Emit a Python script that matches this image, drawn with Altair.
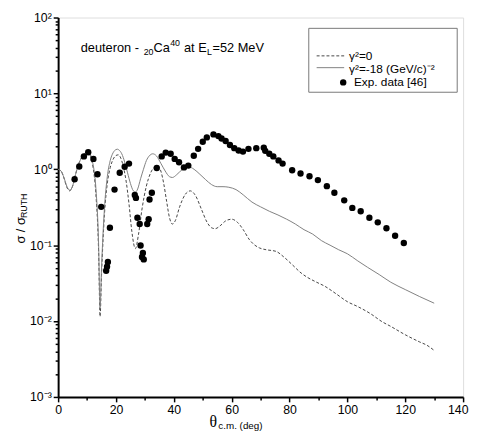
import altair as alt
import pandas as pd

# ---- experimental data (deg, sigma/sigma_Ruth) ----
theta_exp = [5.7, 7.3, 8.9, 10.4, 12.2, 13.6, 14.9, 16.6, 16.9, 17.2, 17.9, 19.5, 21.3, 23.0, 24.5,
             26.5, 26.9, 27.4, 28.2, 28.5, 29.0, 29.3, 29.6, 30.8, 31.3, 31.6, 32.4, 34.1, 35.8,
             37.2, 38.9, 40.3, 41.8, 43.5, 45.0, 46.9, 48.4, 50.0, 51.4, 53.7, 55.4, 56.5, 57.9,
             59.4, 60.9, 62.4, 63.9, 65.8, 68.5, 71.1, 71.6, 73.0, 74.4, 76.2, 77.6, 80.9, 83.8,
             86.9, 89.8, 92.9, 95.5, 98.9, 101.7, 104.6, 107.6, 110.5, 113.5, 116.5, 119.5]
sigma_exp = [0.74, 1.09, 1.48, 1.68, 1.37, 0.86, 0.32, 0.046, 0.052, 0.06, 0.17, 0.54, 0.90, 1.08, 1.19,
             0.46, 0.42, 0.23, 0.19, 0.099, 0.070, 0.079, 0.065, 0.19, 0.22, 0.40, 0.49, 1.04, 1.48,
             1.66, 1.60, 1.37, 1.24, 1.06, 1.12, 1.51, 1.86, 2.31, 2.63, 2.88, 2.74, 2.55, 2.36,
             2.09, 1.90, 1.77, 1.71, 1.86, 1.90, 1.93, 1.75, 1.60, 1.48, 1.31, 1.19, 0.97, 0.88,
             0.81, 0.72, 0.60, 0.49, 0.39, 0.31, 0.28, 0.23, 0.20, 0.167, 0.133, 0.107]

# ---- gamma^2 = 0 (dashed) ----
theta_g0 = [0, 1, 2, 3, 4, 5, 6, 7, 8, 9, 10, 11, 12, 13, 14, 14.5, 15, 16, 17, 18, 19, 20, 20.8,
            21.5, 22.5, 23.5, 24.5, 25.5, 26.7, 27.8, 29, 30.5, 32, 33.5, 34.5, 35.5, 36.5, 37.5,
            38.5, 39.5, 40.5, 42, 44, 45.7, 47.5, 49.5, 51.5, 53, 54.3, 56, 58, 60, 62, 64, 66, 68,
            69.6, 72, 75.3, 78, 81, 84, 86, 89, 92.3, 96, 100, 103.6, 108, 112, 115, 120, 125,
            127.5, 130]
sigma_g0 = [1.0, 0.95, 0.77, 0.58, 0.52, 0.6, 0.85, 1.15, 1.4, 1.6, 1.68, 1.55, 1.1, 0.5, 0.08,
            0.0115, 0.04, 0.25, 0.65, 1.05, 1.35, 1.52, 1.55, 1.45, 1.1, 0.7, 0.35, 0.15, 0.09,
            0.14, 0.3, 0.6, 0.9, 1.08, 1.1, 0.95, 0.65, 0.38, 0.23, 0.19, 0.21, 0.32, 0.47, 0.52,
            0.45, 0.3, 0.2, 0.17, 0.165, 0.18, 0.21, 0.22, 0.2, 0.16, 0.12, 0.1, 0.092, 0.087,
            0.083, 0.07, 0.055, 0.043, 0.038, 0.033, 0.0286, 0.023, 0.018, 0.0155, 0.0125,
            0.0098, 0.0085, 0.0066, 0.0053, 0.0048, 0.0041]

# ---- gamma^2 = -18 (GeV/c)^-2 (solid) ----
theta_g18 = [0, 1, 2, 3, 4, 5, 6, 7, 8, 9, 10, 11, 12, 13, 14, 14.5, 15, 16, 17, 18, 19, 20, 20.5,
             21, 22, 23, 24, 25, 26, 26.7, 27.5, 28.5, 29.5, 30.5, 31.5, 32.7, 34, 35.5, 37, 38.5,
             39.5, 41, 43, 45, 47, 49, 51, 53, 55, 57, 59, 61.5, 64, 67, 70, 73, 76, 79, 82, 85,
             88, 91, 94, 97, 100, 103.6, 107, 111, 115, 120, 125, 130]
sigma_g18 = [1.0, 0.95, 0.78, 0.6, 0.53, 0.6, 0.85, 1.15, 1.4, 1.6, 1.7, 1.6, 1.2, 0.6, 0.1,
             0.015, 0.05, 0.3, 0.8, 1.3, 1.65, 1.82, 1.84, 1.8, 1.6, 1.25, 0.9, 0.65, 0.52, 0.5,
             0.55, 0.75, 1.0, 1.3, 1.5, 1.6, 1.5, 1.2, 0.95, 0.8, 0.78, 0.85, 1.0, 1.08, 1.0, 0.86,
             0.73, 0.63, 0.59, 0.59, 0.58, 0.54, 0.46, 0.37, 0.32, 0.28, 0.25, 0.22, 0.19, 0.16,
             0.14, 0.115, 0.1, 0.087, 0.077, 0.062, 0.051, 0.041, 0.0325, 0.026, 0.021, 0.0172]

x_major = [0, 20, 40, 60, 80, 100, 120]
x_last = [140]
x_minor = [10, 30, 50, 70, 90, 110, 130]
y_major = [0.001, 0.01, 0.1, 1, 10, 100]
y_minor = [k * 10.0 ** e for e in range(-3, 2) for k in range(2, 10)]

legend_labels = ["\u03b3\u00b2=0", "\u03b3\u00b2=-18 (GeV/c)\u207b\u00b2", "Exp. data [46]"]

FONT = "Liberation Sans"
df_exp = pd.DataFrame({"theta": theta_exp, "sigma": sigma_exp})
df_g0 = pd.DataFrame({"theta": theta_g0, "sigma": sigma_g0})
df_g18 = pd.DataFrame({"theta": theta_g18, "sigma": sigma_g18})

xs = alt.Scale(domain=[0, 140], nice=False, zero=False)
ys = alt.Scale(type="log", domain=[0.001, 100], nice=False)

ax_x_major = alt.Axis(values=x_major, orient="bottom", title=None, grid=False, tickSize=5,
                      tickWidth=1.5, tickColor="black", domainColor="black", domainWidth=2,
                      labelFont=FONT, labelFontSize=12.5, labelColor="black", labelPadding=2,
                      format="d", labelFlush=False)
ax_x_last = alt.Axis(values=x_last, orient="bottom", title=None, grid=False, tickSize=5,
                     tickWidth=1.5, tickColor="black", domain=False,
                     labelFont=FONT, labelFontSize=12.5, labelColor="black", labelPadding=2,
                     format="d", labelFlush=True, labelFlushOffset=5)
ax_x_minor = alt.Axis(values=x_minor, orient="bottom", title=None, grid=False, labels=False,
                      domain=False, tickSize=3, tickWidth=1.5, tickColor="black")
ax_y_major = alt.Axis(values=y_major, orient="left", title=None, grid=False, tickSize=5,
                      tickWidth=1.5, tickColor="black", domainColor="black", domainWidth=2,
                      labelFont=FONT, labelFontSize=12.5, labelColor="black", labelPadding=2,
                      labelFlush=False,
                      labelExpr="datum.value >= 99 ? '10\u00b2' : datum.value >= 9.9 ? '10\u00b9' : "
                                "datum.value >= 0.99 ? '10\u2070' : datum.value >= 0.099 ? '10\u207b\u00b9' : "
                                "datum.value >= 0.0099 ? '10\u207b\u00b2' : '10\u207b\u00b3'")
ax_y_minor = alt.Axis(values=y_minor, orient="left", title=None, grid=False, labels=False,
                      domain=False, tickSize=3, tickWidth=1.5, tickColor="black")

dashed = alt.Chart(df_g0).mark_line(color="#444444", strokeWidth=1, strokeDash=[3, 2],
                                    interpolate="monotone").encode(
    x=alt.X("theta:Q", scale=xs, axis=ax_x_major),
    y=alt.Y("sigma:Q", scale=ys, axis=ax_y_major))
solid = alt.Chart(df_g18).mark_line(color="#808080", strokeWidth=1,
                                    interpolate="monotone").encode(
    x=alt.X("theta:Q", scale=xs, axis=None),
    y=alt.Y("sigma:Q", scale=ys, axis=None))
pts = alt.Chart(df_exp).mark_circle(color="black", size=42, opacity=1).encode(
    x=alt.X("theta:Q", scale=xs, axis=None),
    y=alt.Y("sigma:Q", scale=ys, axis=None))
minor = alt.Chart(df_exp).mark_point(opacity=0).encode(
    x=alt.X("theta:Q", scale=xs, axis=ax_x_minor),
    y=alt.Y("sigma:Q", scale=ys, axis=ax_y_minor))
last = alt.Chart(df_exp).mark_point(opacity=0).encode(
    x=alt.X("theta:Q", scale=xs, axis=ax_x_last),
    y=alt.Y("sigma:Q", scale=ys, axis=None))


def txt(s, x, y, size=13, font=FONT, angle=0, baseline="alphabetic"):
    return alt.Chart(pd.DataFrame({"t": [s]})).mark_text(
        font=font, fontSize=size, color="black", align="left", baseline=baseline,
        angle=angle).encode(x=alt.value(x), y=alt.value(y), text="t:N")


one = pd.DataFrame({"a": [0]})
legend_box = alt.Chart(one).mark_rect(fill="white", stroke="#777777", strokeWidth=1).encode(
    x=alt.value(255), x2=alt.value(406), y=alt.value(11), y2=alt.value(76))
leg_dash = alt.Chart(one).mark_rule(color="#444444", strokeWidth=1, strokeDash=[3, 2]).encode(
    x=alt.value(263), x2=alt.value(291), y=alt.value(39))
leg_solid = alt.Chart(one).mark_rule(color="#808080", strokeWidth=1).encode(
    x=alt.value(263), x2=alt.value(291), y=alt.value(51))
leg_dot = alt.Chart(one).mark_circle(color="black", size=42, opacity=1).encode(
    x=alt.value(290), y=alt.value(66))

layers = [dashed, solid, pts, minor, last, legend_box, leg_dash, leg_solid, leg_dot,
          txt(legend_labels[0], 296, 39, 12, baseline="middle"),
          txt(legend_labels[1], 296, 52, 12, baseline="middle"),
          txt(legend_labels[2], 301, 66, 12, baseline="middle"),
          # annotation: deuteron - 20Ca40 at E_L=52 MeV
          txt("deuteron -", 23, 35),
          txt("20", 87, 38, 9),
          txt("Ca", 97, 35),
          txt("40", 114, 29, 9),
          txt("at E", 128, 35),
          txt("L", 151.5, 38, 9),
          txt("=52 MeV", 157, 35),
          # axis titles
          txt("\u03b8", 154, 417, 16, font="Liberation Serif"),
          txt("c.m. (deg)", 163, 419, 10),
          txt("\u03c3 / \u03c3", -38, 230, 13, angle=270, baseline="middle"),
          txt("RUTH", -35, 204, 9, angle=270, baseline="middle"),
          ]

chart = alt.layer(*layers).resolve_axis(x="independent", y="independent").properties(
    width=412, height=386,
    autosize=alt.AutoSizeParams(type="none"),
    padding={"left": 51, "top": 6, "right": 6, "bottom": 34},
).configure_view(stroke="#7f7f7f", strokeWidth=1).configure(background="white")

chart.save("out.html", embed_options={"renderer": "svg", "actions": False})
